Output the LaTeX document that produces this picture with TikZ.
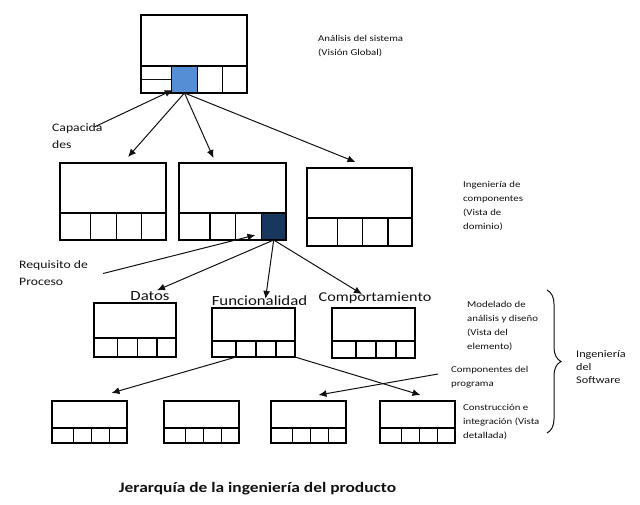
\documentclass[tikz,border=0pt]{standalone}
\usepackage{fontspec}
\setmainfont{Carlito}[FakeStretch=1.2]
\usepackage{tikz}
\usetikzlibrary{arrows.meta,positioning,calc,decorations.pathreplacing}
\definecolor{Celeste}{HTML}{558ED5}
\definecolor{Marino}{HTML}{17375E}
\definecolor{Tinta}{HTML}{111111}

% caja: nombre, izquierda, arriba, derecha, division, abajo
\newcommand{\caja}[6]{%
  \pgfmathsetmacro{\cw}{#4-#2}
  \node[caja,minimum width=\cw pt,minimum height={(#5-#3)*1pt},anchor=north west] (#1) at (#2,#3) {};
  \foreach \k/\ka/\kb in {1/0/0.29,2/0.29/0.53,3/0.53/0.77,4/0.77/1}{
    \node[caja,minimum width={(\kb-\ka)*\cw*1pt},minimum height={(#6-#5)*1pt},anchor=north west] (#1-\k) at ({#2+\ka*\cw},#5) {};
  }
}

\begin{document}
\begin{tikzpicture}[x=1pt,y=-1pt,
    caja/.style={draw,line width=1.3pt,inner sep=0pt,outer sep=0pt},
    flecha/.style={-{Latex[length=8pt,width=7pt]},line width=1pt,Tinta},
    nota/.style={align=left,inner sep=0pt,anchor=west,text=Tinta,font=\fontsize{9}{14}\selectfont},
    etiq/.style={inner sep=0pt,text=Tinta,font=\fontsize{14}{16}\selectfont}]
  \useasboundingbox (0,0) rectangle (640,504);

  % niveles
  \caja{sis}{141}{15}{247}{66}{93}
  \caja{cap1}{60}{163}{166}{213}{240}
  \caja{cap2}{179}{163}{286}{213}{240}
  \caja{cap3}{307}{168}{412}{218}{246}
  \caja{dat}{94}{303}{176}{338}{357}
  \caja{fun}{212}{308}{295}{341}{357}
  \caja{com}{332}{308}{415}{341}{358}
  \foreach \i/\x in {1/52,2/164,3/271,4/380}
    \caja{con\i}{\x}{401}{\x+75}{428}{443}
  \draw[caja,fill=Celeste] (sis-2.north west) rectangle (sis-2.south east);
  \draw[caja,fill=Marino] (cap2-4.north west) rectangle (cap2-4.south east);

  % textos
  \node[nota] (analisis) at (318,46) {Análisis del sistema\\(Visión Global)};
  \node[nota] (ingcomp) at (463,206) {Ingeniería de\\componentes\\(Vista de\\dominio)};
  \node[nota] (modelado) at (467,326) {Modelado de\\análisis y diseño\\(Vista del\\elemento)};
  \node[nota] (prog) at (451,377) {Componentes del\\programa};
  \node[nota] (constr) at (463,422) {Construcción e\\integración (Vista\\detallada)};
  \node[nota,font=\fontsize{10.2}{13}\selectfont] (ingsoft) at (576,367) {Ingeniería\\del\\Software};
  \node[nota,font=\fontsize{11.4}{17}\selectfont] (capac) at (52,136.5) {Capacida\\des};
  \node[nota,font=\fontsize{11.4}{17}\selectfont] (req) at (19,273.5) {Requisito de\\Proceso};
  \node[etiq] (datos) at (150,296) {Datos};
  \node[etiq] (func) at (259.5,301) {Funcionalidad};
  \node[etiq,font=\fontsize{13.5}{16}\selectfont] (comp) at (375,298) {Comportamiento};
  \node[inner sep=0pt,text=Tinta,font=\fontsize{14.5}{16}\selectfont\bfseries] (titulo) at (257.5,489) {Jerarquía de la ingeniería del producto};

  % conectores
  \draw[line width=1pt,Tinta] (sis-1.west) -- (sis-1.east);
  \draw[flecha] ([xshift=-8pt,yshift=-3pt]capac.north east) -- ([xshift=1pt,yshift=3pt]sis-2.south west);
  \draw[flecha] (sis-2.south) -- ([xshift=15pt,yshift=6pt]cap1.north);
  \draw[flecha] (sis-2.south) -- ([xshift=-19pt,yshift=5pt]cap2.north);
  \draw[flecha] (sis-2.south) -- ([xshift=-4pt,yshift=6pt]cap3.north);
  \draw[flecha] ([xshift=15pt]req.east) -- ([xshift=-6pt,yshift=5pt]cap2-4.south west);
  \draw[flecha] (cap2-4.south) -- ([xshift=7pt,yshift=1pt]datos.north);
  \draw[flecha] (cap2-4.south) -- ([xshift=6pt,yshift=-3pt]func.north);
  \draw[flecha] (cap2-4.south) -- ([xshift=-13pt,yshift=-2pt]comp.north);
  \draw[flecha] (fun-2.south west) -- ([xshift=22pt,yshift=8pt]con1.north);
  \draw[flecha] (fun-4.south east) -- ([xshift=3pt,yshift=6pt]con4.north);
  \draw[flecha] ([xshift=-13pt,yshift=3pt]prog.west) -- ([xshift=10pt,yshift=6pt]con3.north);
  \draw[decorate,decoration={brace,amplitude=14pt},line width=1pt,Tinta] (547,290) -- (547,433);
\end{tikzpicture}
\end{document}
